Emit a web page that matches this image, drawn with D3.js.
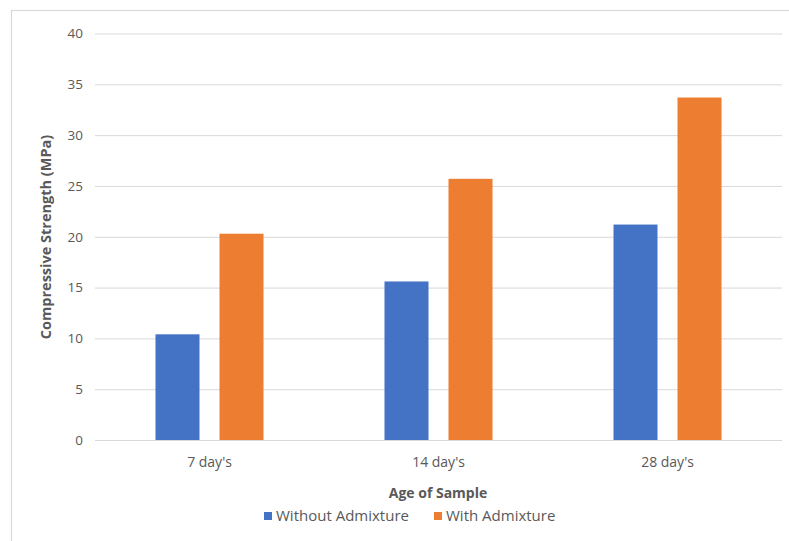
<!DOCTYPE html>
<html><head><meta charset="utf-8">
<script src="https://cdn.jsdelivr.net/npm/d3@7"></script>
<style>body{margin:0;background:#fff}svg{display:block}text{font-family:"Open Sans","Liberation Sans",sans-serif}</style>
</head><body><svg id="c" width="789" height="541"></svg>
<script>
const categories = ["7 day's", "14 day's", "28 day's"];
const seriesNames = ["Without Admixture", "With Admixture"];
const withoutAdmixture = [10.4, 15.6, 21.2];
const withAdmixture = [20.3, 25.7, 33.7];
const yTicks = [0, 5, 10, 15, 20, 25, 30, 35, 40];
const colors = ["#4472c4", "#ed7d31"];

const svg = d3.select("#c");
svg.append("rect").attr("x", 11.5).attr("y", 10.5).attr("width", 800).attr("height", 560)
  .attr("fill", "#fff").attr("stroke", "#d9d9d9").attr("stroke-width", 1.2);

const mLeft = 95, mRight = 782, mTop = 33.5, mBottom = 440;
const x = d3.scaleBand().domain(categories).range([mLeft, mRight]);
const xs = d3.scaleBand().domain(seriesNames).range([0, x.bandwidth()]).paddingInner(0.3125).paddingOuter(0.945);
const y = d3.scaleLinear().domain([0, 40]).range([mBottom, mTop]);

const gy = svg.append("g").attr("transform", `translate(${mLeft},0)`)
  .call(d3.axisLeft(y).tickValues(yTicks).tickSize(-(mRight - mLeft)).tickPadding(12));
gy.select(".domain").remove();
gy.selectAll(".tick line").attr("stroke", "#d9d9d9").attr("stroke-width", 1);
gy.selectAll(".tick text").attr("fill", "#595959").style("font-size", "13.5px");

const data = categories.map((c, i) => ({c, vals: [withoutAdmixture[i], withAdmixture[i]]}));
svg.append("g").selectAll("g").data(data).join("g")
  .attr("transform", d => `translate(${x(d.c)},0)`)
  .selectAll("rect").data(d => d.vals.map((v, j) => ({v, s: seriesNames[j], j})))
  .join("rect")
  .attr("x", d => xs(d.s)).attr("width", xs.bandwidth())
  .attr("y", d => y(d.v)).attr("height", d => y(0) - y(d.v))
  .attr("fill", d => colors[d.j]);

const gx = svg.append("g").attr("transform", `translate(0,${mBottom})`)
  .call(d3.axisBottom(x).tickSize(0).tickPadding(17));
gx.select(".domain").remove();
gx.selectAll(".tick text").attr("fill", "#595959").style("font-size", "14px");

svg.append("text").attr("x", 438).attr("y", 498).attr("text-anchor", "middle")
  .attr("fill", "#595959").style("font-size", "14px").style("font-weight", "bold").text("Age of Sample");
svg.append("text").attr("transform", "translate(51,237) rotate(-90)").attr("text-anchor", "middle")
  .attr("fill", "#595959").style("font-size", "14.5px").style("font-weight", "bold").text("Compressive Strength (MPa)");

const legX = [264, 434];
const lg = svg.append("g").selectAll("g").data(seriesNames).join("g")
  .attr("transform", (d, i) => `translate(${legX[i]},512)`);
lg.append("rect").attr("width", 8).attr("height", 8).attr("fill", (d, i) => colors[i]);
lg.append("text").attr("x", 12).attr("y", 9).attr("fill", "#595959").style("font-size", "15px").text(d => d);
</script></body></html>
